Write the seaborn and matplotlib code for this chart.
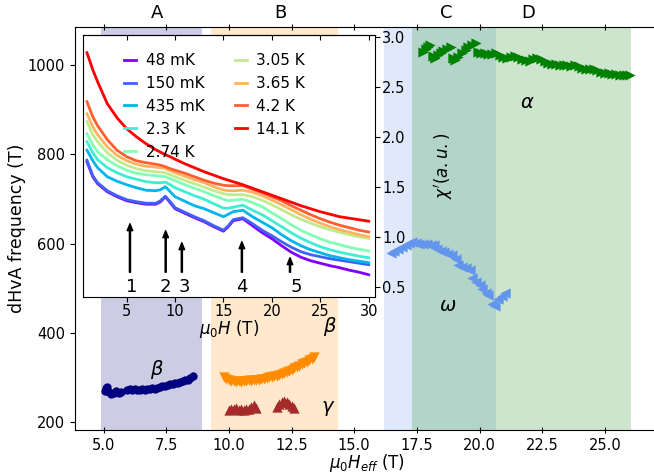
import numpy as np
import pandas as pd
import matplotlib
matplotlib.use("Agg")
import matplotlib.pyplot as plt
from matplotlib.ticker import FormatStrFormatter
import seaborn as sns

# ---------------- dHvA frequencies vs effective field ----------------
beta1_H = [5.05, 5.1, 5.15, 5.2, 5.3, 5.4, 5.5, 5.6, 5.7,
           5.95, 6.05, 6.15, 6.25, 6.35, 6.45, 6.55, 6.65, 6.75, 6.85, 6.95,
           7.05, 7.15, 7.25, 7.35, 7.45, 7.55, 7.65, 7.75, 7.85, 7.95, 8.05,
           8.15, 8.25, 8.35, 8.45, 8.55]
beta1_F = [270, 276, 279, 268, 262, 266, 270, 266, 268,
           272, 274, 271, 273, 272, 271, 274, 272, 275, 273, 276,
           274, 277, 278, 280, 281, 283, 285, 286, 288, 287, 290,
           291, 293, 295, 298, 302]

beta2_H = [9.8, 9.9, 10.0, 10.1, 10.2, 10.3, 10.4, 10.5, 10.6, 10.7, 10.8,
           10.9, 11.0, 11.1, 11.2, 11.3, 11.4, 11.5, 11.6, 11.7, 11.8, 11.9,
           12.0, 12.1, 12.2, 12.3, 12.4, 12.5, 12.6, 12.7, 12.8, 12.9, 13.0,
           13.1, 13.2, 13.3, 13.4]
beta2_F = [300, 297, 294, 292, 291, 290, 291, 290, 292, 291, 293,
           292, 294, 293, 295, 296, 297, 298, 300, 301, 303, 304,
           306, 308, 310, 312, 315, 317, 320, 323, 326, 329, 332,
           335, 338, 341, 346]

gamma_H = [10.0, 10.1, 10.2, 10.3, 10.4, 10.5, 10.6, 10.7, 10.8, 10.9, 11.0, 11.1,
           11.9, 12.0, 12.1, 12.2, 12.3, 12.4, 12.5, 12.6]
gamma_F = [226, 230, 228, 232, 227, 229, 226, 230, 228, 233, 238, 232,
           234, 240, 244, 246, 244, 240, 236, 232]

alpha_H = [17.76, 17.85, 17.95, 18.02, 18.15, 18.22, 18.35, 18.45, 18.55, 18.7,
           18.85, 18.95, 19.02, 19.15, 19.3, 19.45, 19.55, 19.7, 19.85, 19.95,
           20.05, 20.2, 20.35, 20.5, 20.65, 20.8, 20.95, 21.1, 21.25, 21.4,
           21.55, 21.7, 21.85, 22.0, 22.15, 22.3, 22.45, 22.6, 22.75, 22.9,
           23.05, 23.2, 23.35, 23.5, 23.65, 23.8, 23.95, 24.1, 24.25, 24.4,
           24.55, 24.7, 24.85, 25.0, 25.15, 25.3, 25.45, 25.6, 25.75, 25.9, 26.0]
alpha_F = [1030, 1035, 1040, 1045, 1020, 1015, 1022, 1028, 1032, 1036,
           1040, 1015, 1011, 1018, 1026, 1034, 1041, 1045, 1049, 1030,
           1026, 1028, 1025, 1024, 1026, 1022, 1018, 1016, 1019, 1021,
           1018, 1014, 1012, 1010, 1013, 1016, 1014, 1008, 1005, 1003,
           1002, 1001, 1000, 999, 998, 999, 997, 993, 990, 991,
           992, 988, 984, 982, 983, 981, 979, 978, 977, 978, 977]

omega_H = [16.45, 16.6, 16.75, 16.9, 17.05, 17.2, 17.3, 17.45, 17.6, 17.75,
           17.9, 18.05, 18.2, 18.3, 18.45, 18.6, 18.75, 18.9, 19.05, 19.15,
           19.3, 19.45, 19.6, 19.7, 19.85, 20.0, 20.1, 20.25, 20.35, 20.5,
           20.6, 20.75, 20.9, 21.0]
omega_F = [578, 583, 588, 592, 597, 601, 604, 601, 599, 598,
           598, 597, 597, 587, 583, 580, 577, 575, 565, 552,
           548, 545, 540, 522, 513, 507, 498, 490, 484, 465,
           460, 476, 482, 488]

# field ranges of the four regions
region_names = ["A", "B", "C", "D"]
region_lo = [4.9, 9.3, 16.2, 17.32]
region_hi = [8.93, 14.34, 20.64, 26.04]
region_colors = ["navy", "darkorange", "cornflowerblue", "green"]
region_label_x = [7.15, 12.04, 18.66, 21.93]

# ---------------- ac susceptibility vs field ----------------
field = [0.9, 1.5, 2, 3, 4, 5, 6, 7, 8, 8.5, 9, 9.5, 10, 11, 12, 13, 14, 15,
         15.5, 16, 17, 18, 19, 20, 21, 22, 23, 24, 25, 26, 27, 28, 29, 30]
temperatures = ["48 mK", "150 mK", "435 mK", "2.3 K", "2.74 K",
                "3.05 K", "3.65 K", "4.2 K", "14.1 K"]
chi_48mK = [1.75, 1.60, 1.53, 1.45, 1.40, 1.36, 1.34, 1.325, 1.325, 1.35, 1.40,
            1.34, 1.28, 1.235, 1.19, 1.15, 1.10, 1.055, 1.10, 1.16, 1.18, 1.11,
            1.04, 0.98, 0.91, 0.845, 0.795, 0.76, 0.735, 0.71, 0.69, 0.665,
            0.645, 0.62]
chi_150mK = [1.765, 1.61, 1.54, 1.46, 1.41, 1.37, 1.35, 1.335, 1.335, 1.36, 1.405,
             1.35, 1.29, 1.245, 1.20, 1.16, 1.11, 1.065, 1.11, 1.17, 1.19, 1.13,
             1.065, 1.01, 0.95, 0.895, 0.85, 0.82, 0.80, 0.78, 0.765, 0.75,
             0.735, 0.72]
chi_435mK = [1.865, 1.76, 1.69, 1.60, 1.555, 1.52, 1.49, 1.465, 1.46, 1.47, 1.50,
             1.45, 1.40, 1.355, 1.31, 1.28, 1.24, 1.20, 1.225, 1.25, 1.265, 1.20,
             1.145, 1.09, 1.02, 0.96, 0.91, 0.87, 0.84, 0.81, 0.79, 0.77,
             0.755, 0.74]
chi_2p3K = [1.95, 1.84, 1.77, 1.69, 1.64, 1.60, 1.575, 1.55, 1.54, 1.54, 1.545,
            1.52, 1.49, 1.45, 1.41, 1.375, 1.33, 1.285, 1.285, 1.295, 1.315, 1.265,
            1.22, 1.16, 1.10, 1.04, 0.985, 0.94, 0.90, 0.87, 0.845, 0.825,
            0.805, 0.79]
chi_2p74K = [2.03, 1.92, 1.85, 1.77, 1.71, 1.665, 1.635, 1.62, 1.61, 1.605, 1.60,
             1.58, 1.56, 1.52, 1.485, 1.45, 1.41, 1.375, 1.36, 1.365, 1.375, 1.34,
             1.30, 1.24, 1.18, 1.12, 1.065, 1.02, 0.98, 0.945, 0.92, 0.895,
             0.875, 0.857]
chi_3p05K = [2.15, 2.02, 1.95, 1.84, 1.765, 1.715, 1.68, 1.66, 1.65, 1.645, 1.64,
             1.62, 1.60, 1.565, 1.53, 1.495, 1.46, 1.43, 1.42, 1.42, 1.42, 1.40,
             1.365, 1.32, 1.27, 1.22, 1.175, 1.135, 1.10, 1.07, 1.045, 1.02,
             1.00, 0.983]
chi_3p65K = [2.23, 2.10, 2.02, 1.90, 1.815, 1.76, 1.725, 1.705, 1.695, 1.69, 1.683,
             1.66, 1.64, 1.605, 1.57, 1.54, 1.50, 1.467, 1.46, 1.46, 1.465, 1.445,
             1.41, 1.365, 1.32, 1.27, 1.22, 1.175, 1.135, 1.10, 1.07, 1.045,
             1.02, 1.0]
chi_4p2K = [2.35, 2.20, 2.11, 1.97, 1.865, 1.80, 1.76, 1.74, 1.725, 1.715, 1.70,
            1.68, 1.665, 1.635, 1.60, 1.565, 1.535, 1.515, 1.51, 1.51, 1.51, 1.475,
            1.44, 1.40, 1.36, 1.31, 1.265, 1.22, 1.18, 1.145, 1.115, 1.09,
            1.065, 1.047]
chi_14p1K = [2.84, 2.67, 2.55, 2.33, 2.19, 2.08, 2.00, 1.93, 1.87, 1.845, 1.82,
             1.80, 1.775, 1.73, 1.69, 1.65, 1.615, 1.58, 1.565, 1.55, 1.52, 1.485,
             1.45, 1.415, 1.38, 1.345, 1.31, 1.28, 1.25, 1.225, 1.20, 1.185,
             1.17, 1.155]
chi_curves = [chi_48mK, chi_150mK, chi_435mK, chi_2p3K, chi_2p74K,
              chi_3p05K, chi_3p65K, chi_4p2K, chi_14p1K]

# quantum oscillation features marked in the susceptibility
feature_labels = ["1", "2", "3", "4", "5"]
feature_H = [5.34, 9.03, 10.7, 16.9, 21.87]
feature_tip = [1.13, 1.06, 0.94, 0.95, 0.79]
feature_text_H = [5.5, 9.0, 11.0, 16.9, 22.5]

chi_df = pd.DataFrame({
    "H": np.tile(field, len(temperatures)),
    "chi": np.concatenate(chi_curves),
    "T": np.repeat(temperatures, len(field)),
})

# ---------------- figure ----------------
fig = plt.figure(figsize=(6.54, 4.74), dpi=100)
ax = fig.add_axes([0.1147, 0.0928, 0.8945, 0.850])

for lo, hi, c in zip(region_lo, region_hi, region_colors):
    ax.axvspan(lo, hi, color=c, alpha=0.2, lw=0, zorder=0)

sns.scatterplot(x=beta1_H, y=beta1_F, marker="o", color="navy", s=36,
                linewidth=0, ax=ax, zorder=3)
sns.scatterplot(x=beta2_H, y=beta2_F, marker="v", color="darkorange", s=55,
                linewidth=0, ax=ax, zorder=3)
sns.scatterplot(x=gamma_H, y=gamma_F, marker="^", color="brown", s=55,
                linewidth=0, ax=ax, zorder=3)
sns.scatterplot(x=alpha_H, y=alpha_F, marker=">", color="green", s=55,
                linewidth=0, ax=ax, zorder=3)
sns.scatterplot(x=omega_H, y=omega_F, marker="<", color="cornflowerblue", s=55,
                linewidth=0, ax=ax, zorder=3)

ax.set_xlim(3.86, 27.2)
ax.set_ylim(182, 1085)
ax.set_xticks([5, 7.5, 10, 12.5, 15, 17.5, 20, 22.5, 25])
ax.set_yticks([200, 400, 600, 800, 1000])
ax.xaxis.set_major_formatter(FormatStrFormatter("%.1f"))
ax.tick_params(axis="x", direction="inout", top=True, length=5, labelsize=10.5)
ax.tick_params(axis="y", direction="out", length=3.5, labelsize=10.5)
ax.set_xlabel(r"$\mu_0H_{eff}$ (T)", fontsize=12, labelpad=-1)
ax.set_ylabel("dHvA frequency (T)", fontsize=12.5, labelpad=1.5)

for name, xpos in zip(region_names, region_label_x):
    ax.text(xpos, 1.035, name, transform=ax.get_xaxis_transform(),
            ha="center", va="center", fontsize=13)

greek = [(r"$\beta$", 7.14, 317), (r"$\beta$", 14.04, 413), (r"$\gamma$", 13.96, 231),
         (r"$\alpha$", 21.9, 915), (r"$\omega$", 18.74, 462)]
for txt, gx, gy in greek:
    ax.text(gx, gy, txt, ha="center", va="center", fontsize=14)

# ---------------- inset: susceptibility ----------------
axin = fig.add_axes([0.1269, 0.3734, 0.4465, 0.5527])
axin.set_zorder(5)
axin.set_facecolor("white")
palette = [plt.cm.rainbow(v) for v in np.linspace(0, 1, len(temperatures))]
sns.lineplot(data=chi_df, x="H", y="chi", hue="T", hue_order=temperatures,
             palette=palette, lw=2, sort=True, ax=axin)

for lab, hx, tip, tx in zip(feature_labels, feature_H, feature_tip, feature_text_H):
    axin.annotate("", xy=(hx, tip), xytext=(hx, 0.645),
                  arrowprops=dict(facecolor="black", edgecolor="black",
                                  width=0.8, headwidth=4, headlength=5, shrink=0))
    axin.text(tx, 0.50, lab, ha="center", va="center", fontsize=13)

axin.set_xlim(0.49, 30.65)
axin.set_ylim(0.397, 3.017)
axin.set_xticks([5, 10, 15, 20, 25, 30])
axin.set_yticks([0.5, 1.0, 1.5, 2.0, 2.5, 3.0])
axin.yaxis.tick_right()
axin.yaxis.set_label_position("right")
axin.tick_params(axis="both", labelsize=10.5, length=3.5, pad=1.5)
top_ax = axin.secondary_xaxis("top")
top_ax.set_xticks([5, 10, 15, 20, 25, 30])
top_ax.tick_params(direction="in", length=3.5, labeltop=False)
axin.set_xlabel(r"$\mu_0H$ (T)", fontsize=12, labelpad=-1)
axin.set_ylabel(r"$\chi'(a.u.)$", fontsize=12, labelpad=19)

axin.legend(ncol=2, frameon=False, fontsize=11, handlelength=0.8,
            handletextpad=0.6, labelspacing=0.52, columnspacing=2.0,
            loc="upper left", bbox_to_anchor=(0.12, 0.955), borderaxespad=0)

fig.savefig("out.png", dpi=100)
